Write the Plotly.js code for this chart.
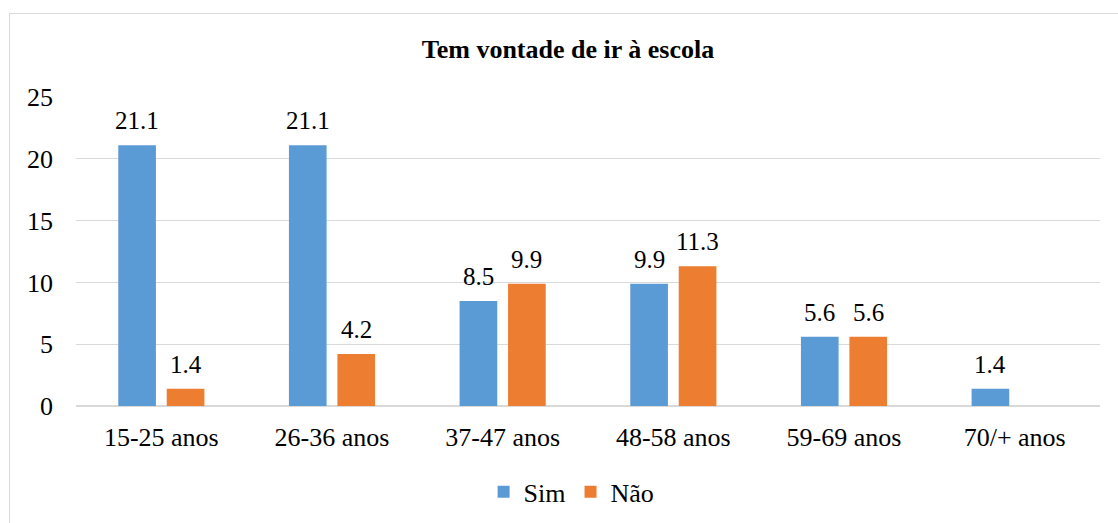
<!DOCTYPE html>
<html>
<head>
<meta charset="utf-8">
<script src="https://cdn.plot.ly/plotly-3.0.1.min.js"></script>
<style>
  html, body { margin: 0; padding: 0; width: 1118px; height: 523px; overflow: hidden; background: #fff; }
  #frame { position: absolute; left: 9px; top: 13px; width: 1300px; height: 700px;
           border-left: 1px solid #d9d9d9; border-top: 1px solid #d9d9d9; }
  #chart { position: absolute; left: 0; top: 0; width: 1118px; height: 523px; }
</style>
</head>
<body>
<div id="frame"></div>
<div id="chart"></div>
<script>
const categories = ["15-25 anos", "26-36 anos", "37-47 anos", "48-58 anos", "59-69 anos", "70/+ anos"];
const simValues = [21.1, 21.1, 8.5, 9.9, 5.6, 1.4];
const naoValues = [1.4, 4.2, 9.9, 11.3, 5.6, null];
const seriesNames = ["Sim", "Não"];
const seriesColors = ["#5B9BD5", "#ED7D31"];
const yTicks = [0, 5, 10, 15, 20, 25];

const FONT = "Liberation Serif";

const traces = [simValues, naoValues].map((vals, s) => ({
  type: "bar",
  name: seriesNames[s],
  x: categories,
  y: vals,
  marker: { color: seriesColors[s], line: { width: 0 } },
  hoverinfo: "x+y+name"
}));

const slotPx = 24.25;
const annotations = [];
[simValues, naoValues].forEach((vals, s) => {
  vals.forEach((v, i) => {
    if (v === null || v === undefined) return;
    annotations.push({
      x: categories[i], y: v, xref: "x", yref: "y",
      text: v.toFixed(1), showarrow: false,
      xanchor: "center", yanchor: "bottom",
      xshift: s === 0 ? -slotPx : slotPx, yshift: 9,
      font: { family: FONT, size: 25, color: "#000" }
    });
  });
});

const layout = {
  width: 1118, height: 523,
  margin: { l: 76, r: 18, t: 97, b: 117, autoexpand: false },
  paper_bgcolor: "rgba(0,0,0,0)",
  plot_bgcolor: "rgba(0,0,0,0)",
  barmode: "group",
  bargap: 0.432,
  bargroupgap: 0.223,
  font: { family: FONT, color: "#000" },
  title: {
    text: "<b>Tem vontade de ir à escola</b>",
    font: { family: FONT, size: 26, color: "#000" },
    x: 568 / 1118, xanchor: "center", xref: "container",
    y: 1 - 49 / 523, yanchor: "middle", yref: "container"
  },
  xaxis: {
    type: "category",
    tickfont: { family: FONT, size: 26, color: "#000" },
    showgrid: false, showline: false, ticks: "",
    ticklabelstandoff: 13,
    fixedrange: true
  },
  yaxis: {
    range: [0, 25],
    tickvals: yTicks,
    ticktext: yTicks.map(String),
    tickfont: { family: FONT, size: 26, color: "#000" },
    showgrid: true, gridcolor: "#d9d9d9", gridwidth: 1.3,
    zeroline: true, zerolinecolor: "#d9d9d9", zerolinewidth: 1.3,
    showline: false, ticks: "",
    ticklabelstandoff: 22,
    fixedrange: true
  },
  showlegend: true,
  legend: {
    orientation: "h",
    x: 0.484, xanchor: "center",
    y: -0.278, yanchor: "middle",
    font: { family: FONT, size: 26, color: "#000" },
    itemwidth: 30,
    bgcolor: "rgba(0,0,0,0)"
  },
  annotations: annotations
};

Plotly.newPlot("chart", traces, layout, { displayModeBar: false, staticPlot: true });
</script>
</body>
</html>
